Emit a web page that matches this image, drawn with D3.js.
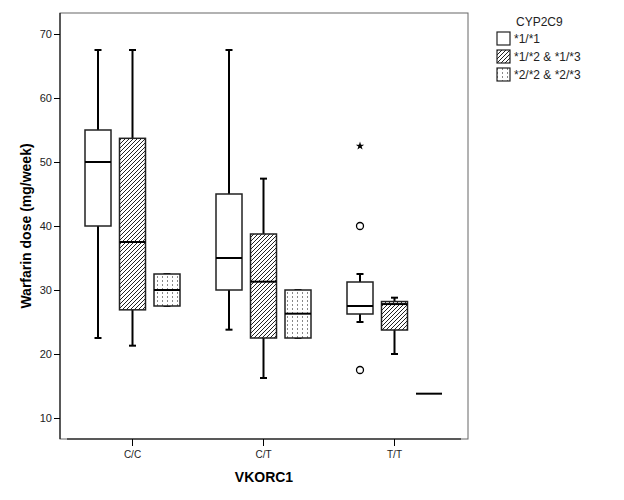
<!DOCTYPE html>
<html><head><meta charset="utf-8">
<script src="https://cdn.jsdelivr.net/npm/d3@7"></script>
<style>body{margin:0;background:#fff}svg{display:block}text{font-family:Arial,"Liberation Sans",sans-serif}</style>
</head><body>
<script>
const categories = ["C/C", "C/T", "T/T"];
const seriesNames = ["*1/*1", "*1/*2 & *1/*3", "*2/*2 & *2/*3"];
// [min, q1, median, q3, max] per category
const s1Stats = [[22.5, 40, 50, 55, 67.5], [23.8, 30, 35, 45, 67.5], [25, 26.25, 27.5, 31.25, 32.5]];
const s2Stats = [[21.3, 26.9, 37.5, 53.7, 67.5], [16.25, 22.5, 31.3, 38.75, 47.4], [20, 23.75, 27.8, 28.2, 28.8]];
const s3Stats = [[27.5, 27.5, 30, 32.5, 32.5], [22.5, 22.5, 26.3, 30, 30], [13.8, 13.8, 13.8, 13.8, 13.8]];
const outlierCircles = [{cat: "T/T", series: 0, value: 40}, {cat: "T/T", series: 0, value: 17.5}];
const outlierStars = [{cat: "T/T", series: 0, value: 52.5}];
const yTicks = [10, 20, 30, 40, 50, 60, 70];

const W = 624, H = 500;
const svg = d3.select("body").append("svg").attr("width", W).attr("height", H);
const defs = svg.append("defs");
const hatch = defs.append("pattern").attr("id", "hatch").attr("patternUnits", "userSpaceOnUse")
  .attr("width", 4).attr("height", 4);
hatch.append("rect").attr("width", 4).attr("height", 4).attr("fill", "#fff");
hatch.append("path").attr("d", "M-1,1 l2,-2 M0,4 l4,-4 M3,5 l2,-2").attr("stroke", "#222").attr("stroke-width", 1);
const dots = defs.append("pattern").attr("id", "dots").attr("patternUnits", "userSpaceOnUse")
  .attr("width", 5).attr("height", 4);
dots.append("rect").attr("width", 5).attr("height", 4).attr("fill", "#fff");
dots.append("rect").attr("x", 2).attr("y", 0).attr("width", 1).attr("height", 2).attr("fill", "#888");
const fills = ["#fff", "url(#hatch)", "url(#dots)"];

const frame = {l: 60, t: 13, r: 468, b: 439};
const y = d3.scaleLinear().domain([10, 70]).range([418, 34]);
const x = d3.scaleBand().domain(categories).range([67, 460]);
const xs = d3.scalePoint().domain(d3.range(seriesNames.length)).range([-34.5, 34.5]);
const boxW = 26;

// frame
svg.append("rect").attr("x", frame.l).attr("y", frame.t).attr("width", frame.r - frame.l)
  .attr("height", frame.b - frame.t).attr("fill", "none").attr("stroke", "#666").attr("stroke-width", 1);

// y axis
const yAxis = svg.append("g").attr("transform", `translate(${frame.l},0)`)
  .call(d3.axisLeft(y).tickValues(yTicks).tickSize(6).tickPadding(2));
yAxis.select(".domain").remove();
yAxis.append("line").attr("x1", 0).attr("x2", 0).attr("y1", frame.t).attr("y2", frame.b).attr("stroke", "#000");
yAxis.selectAll(".tick line").attr("stroke", "#000");
yAxis.selectAll(".tick text").attr("font-size", 11).attr("fill", "#222");

// x axis
const xAxis = svg.append("g").attr("transform", `translate(0,${frame.b})`)
  .call(d3.axisBottom(x).tickSize(7).tickPadding(5));
xAxis.select(".domain").remove();
xAxis.append("line").attr("x1", 67).attr("x2", 461).attr("y1", 0).attr("y2", 0).attr("stroke", "#000").attr("stroke-width", 1.2);
xAxis.selectAll(".tick line").attr("stroke", "#000");
xAxis.selectAll(".tick text").attr("font-size", 10).attr("fill", "#222");

svg.append("text").attr("x", 264).attr("y", 482).attr("text-anchor", "middle")
  .attr("font-size", 14).attr("font-weight", "bold").text("VKORC1");
svg.append("text").attr("transform", "translate(31,226) rotate(-90)").attr("text-anchor", "middle")
  .attr("font-size", 14).attr("font-weight", "bold").text("Warfarin dose (mg/week)");

// boxes
const allStats = [s1Stats, s2Stats, s3Stats];
const g = svg.append("g");
allStats.forEach((stats, si) => {
  stats.forEach((s, ci) => {
    const cx = x(categories[ci]) + x.bandwidth() / 2 + xs(si);
    const [mn, q1, md, q3, mx] = s;
    const grp = g.append("g");
    // whiskers
    if (mx > q3) grp.append("line").attr("x1", cx).attr("x2", cx).attr("y1", y(q3)).attr("y2", y(mx)).attr("stroke", "#000").attr("stroke-width", 2);
    if (mn < q1) grp.append("line").attr("x1", cx).attr("x2", cx).attr("y1", y(q1)).attr("y2", y(mn)).attr("stroke", "#000").attr("stroke-width", 2);
    if (q3 > q1) {
      [mn, mx].forEach(v => grp.append("line").attr("x1", cx - 3.5).attr("x2", cx + 3.5).attr("y1", y(v)).attr("y2", y(v)).attr("stroke", "#000").attr("stroke-width", 2));
      grp.append("rect").attr("x", cx - boxW / 2).attr("y", y(q3)).attr("width", boxW).attr("height", y(q1) - y(q3))
        .attr("fill", fills[si]).attr("stroke", "#222").attr("stroke-width", 1.5);
    }
    grp.append("line").attr("x1", cx - boxW / 2).attr("x2", cx + boxW / 2).attr("y1", y(md)).attr("y2", y(md)).attr("stroke", "#000").attr("stroke-width", 2);
  });
});

// outliers
outlierCircles.forEach(o => {
  const cx = x(o.cat) + x.bandwidth() / 2 + xs(o.series);
  g.append("circle").attr("cx", cx).attr("cy", y(o.value)).attr("r", 3.5).attr("fill", "#fff").attr("stroke", "#000").attr("stroke-width", 1.3);
});
outlierStars.forEach(o => {
  const cx = x(o.cat) + x.bandwidth() / 2 + xs(o.series);
  g.append("path").attr("transform", `translate(${cx},${y(o.value)})`)
    .attr("d", d3.symbol().type(d3.symbolStar).size(22)()).attr("fill", "#000");
});

// legend
const lg = svg.append("g");
lg.append("text").attr("x", 516).attr("y", 26).attr("font-size", 12).attr("fill", "#222").text("CYP2C9");
seriesNames.forEach((n, i) => {
  const yy = 32 + i * 18;
  lg.append("rect").attr("x", 497).attr("y", yy).attr("width", 13).attr("height", 13)
    .attr("fill", fills[i]).attr("stroke", "#222").attr("stroke-width", 1.2);
  lg.append("text").attr("x", 514).attr("y", yy + 11).attr("font-size", 12).attr("fill", "#222").text(n);
});
</script>
</body></html>
